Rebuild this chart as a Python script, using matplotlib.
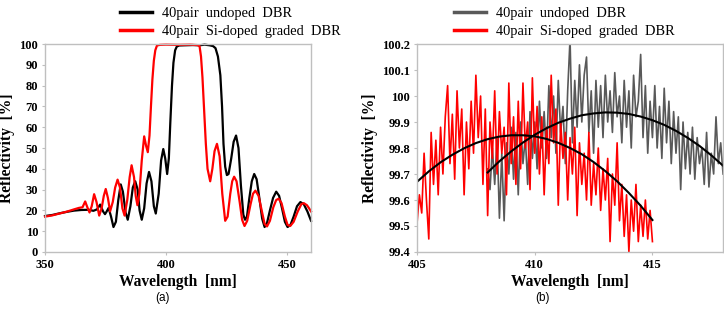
import matplotlib
matplotlib.use("Agg")
import matplotlib.pyplot as plt
import numpy as np
from matplotlib.ticker import FuncFormatter

# ---- panel (a): full spectra ----
lam_undoped = [350, 353, 356, 359, 362, 365, 368, 370, 371.5, 372.8, 374, 374.8, 375.5, 376.3,
               377.3, 378.3, 379.3, 380.3, 381.3, 382.2, 383.3, 384.2, 385.3, 386.3, 387.3, 388.3,
               389.1, 390, 391, 392, 393, 394, 395, 395.8, 397, 398, 398.9, 399.7, 400.5, 401.2,
               401.8, 402.5, 403.1, 403.8, 404.5, 405.5, 408, 411, 414, 416, 418, 419.5, 420.5,
               421.5, 422.5, 423.2, 423.8, 424.5, 425.2, 425.9, 427, 428, 429, 430, 431, 432,
               432.7, 433.5, 434.5, 435.5, 436.5, 437.5, 438.5, 439.8, 440.8, 441.8, 443, 444.3,
               445.6, 446.8, 448, 449.2, 450.3, 451.5, 452.8, 454.2, 455.6, 457, 458.5, 460]
r_undoped = [17.3, 17.8, 18.6, 19.3, 19.9, 20.2, 20.3, 19.8, 20.5, 22.8, 19.5, 18.2, 19.5, 21.2,
             17, 12, 14.5, 25, 32.5, 29, 19, 15.5, 22, 31, 34, 30,
             20, 15.5, 21, 33, 38.5, 34, 22, 18.5, 28, 44, 49.5, 45, 37.5, 45,
             62, 80, 91, 97, 98.8, 99.3, 99.4, 99.5, 99.4, 99.7, 99.4, 99, 98,
             94, 85, 70, 52, 41, 37, 37.5, 45, 53, 56, 50, 32, 18,
             15.5, 17, 26, 34, 37.5, 35, 27, 16, 12, 14, 20, 26,
             29, 27, 21, 14.5, 12, 13, 17, 22, 24, 23, 19.5, 15]

lam_graded = [350, 353, 356, 359, 362, 364, 365.5, 366.6, 367.5, 368.4, 369.3, 370.3, 371.3,
              372.4, 373.4, 374.3, 375.1, 376, 376.9, 378, 379, 380, 381, 382, 382.9, 384, 385,
              385.8, 386.8, 387.5, 388.2, 389, 390, 391, 391.8, 392.5, 393.2, 393.8, 394.4, 395,
              395.6, 396.3, 397.5, 400, 405, 410, 413, 413.9, 414.5, 415.1, 415.8, 416.5, 417.2,
              418.3, 419.2, 420.1, 421.1, 422.2, 423.3, 424.5, 425.5, 426.6, 427.4, 428.2, 429.2,
              430.5, 431.5, 432.5, 433.6, 435, 436, 437, 438.3, 439.6, 440.8, 441.8, 443, 444.4,
              445.6, 446.6, 447.8, 449.2, 450.3, 451.4, 452.8, 454.5, 456, 457, 458.3, 459.2, 460]
r_graded = [17, 17.6, 18.5, 19.4, 20.5, 21.2, 21.5, 24.3, 21.5, 19, 22, 27.8, 24,
            17.5, 21, 27, 30.3, 26, 19.5, 24, 31, 34.8, 31, 21, 17.5, 25, 36,
            41.7, 36, 27, 22.5, 28, 44, 55.6, 51, 48, 56, 70, 83, 92,
            97, 99.3, 99.6, 99.7, 99.6, 99.7, 99.5, 99, 94, 84, 68, 52, 40,
            34, 40, 48.5, 52, 46, 28, 15, 17, 28, 34, 36.2, 34,
            24, 15.5, 12.5, 15, 23, 28, 29.5, 27, 20, 13.5, 12.3, 15, 21.5,
            25, 25.6, 23.5, 17, 13, 12.5, 14.5, 19.5, 23, 23.5, 22.5, 21, 19.5]

# ---- panel (b): stop-band top, 0.1 nm steps ----
lam_red_start, lam_gray_start, lam_step = 405.0, 408.0, 0.1
top_graded = [99.51, 99.62, 99.55, 99.78, 99.60, 99.45, 99.86, 99.66, 99.83, 99.62,
              99.88, 99.70, 99.92, 100.04, 99.74, 99.93, 99.68, 100.02, 99.80, 99.95,
              99.62, 99.90, 99.72, 99.98, 99.78, 100.08, 99.84, 100.00, 99.66, 99.95,
              99.54, 99.90, 99.76, 100.02, 99.70, 99.94, 99.78, 99.88, 99.62, 100.05,
              99.74, 99.92, 99.66, 99.98, 99.72, 100.05, 99.80, 99.90, 99.64, 100.07,
              99.78, 99.96, 99.70, 99.92, 99.62, 99.88, 99.74, 100.08, 99.82, 99.95,
              99.58, 99.90, 99.76, 99.86, 99.60, 99.84, 99.70, 99.88, 99.54, 99.82,
              99.66, 99.78, 99.60, 99.86, 99.58, 99.74, 99.62, 99.80, 99.56, 99.72,
              99.60, 99.76, 99.44, 99.70, 99.58, 99.82, 99.52, 99.66, 99.46, 99.62,
              99.40, 99.60, 99.48, 99.66, 99.44, 99.58, 99.46, 99.60, 99.45, 99.56, 99.44]
top_undoped = [99.72, 99.64, 99.80, 99.66, 99.84, 99.53, 99.78, 99.52, 99.82, 99.70,
               99.88, 99.68, 99.86, 99.62, 99.90, 99.74, 99.84, 99.66, 99.94, 99.76,
               99.90, 99.72, 99.98, 99.80, 99.94, 99.76, 100.04, 99.84, 100.00, 99.78,
               100.06, 99.86, 99.96, 99.74, 100.02, 100.22, 99.82, 100.06, 99.88, 100.12,
               99.90, 100.08, 100.15, 99.86, 100.02, 99.78, 100.06, 99.88, 100.04, 99.84,
               100.08, 99.90, 100.02, 99.86, 100.09, 99.92, 100.00, 99.82, 100.06, 99.88,
               100.02, 99.80, 100.08, 99.92, 99.98, 100.16, 99.84, 100.04, 99.78, 99.98,
               99.84, 100.04, 99.80, 99.96, 99.76, 100.03, 99.82, 99.98, 99.74, 99.94,
               99.78, 99.92, 99.64, 99.90, 99.72, 99.86, 99.70, 99.88, 99.68, 99.84,
               99.74, 99.80, 99.66, 99.86, 99.65, 99.78, 99.70, 99.92, 99.74, 99.82, 99.70]

# parabolic fits
fit_red_lam = [405, 405.5, 406, 406.5, 407, 407.5, 408, 408.5, 409, 409.5, 410, 410.5, 411,
               411.5, 412, 412.5, 413, 413.5, 414, 414.5, 415]
fit_red = [99.670, 99.710, 99.745, 99.774, 99.799, 99.819, 99.834, 99.844, 99.849, 99.849,
           99.845, 99.835, 99.820, 99.800, 99.776, 99.746, 99.711, 99.672, 99.627, 99.578, 99.523]
fit_gray_lam = [408, 408.5, 409, 409.5, 410, 410.5, 411, 411.5, 412, 412.5, 413, 413.5, 414,
                414.5, 415, 415.5, 416, 416.5, 417, 417.5, 418]
fit_gray = [99.706, 99.749, 99.787, 99.821, 99.851, 99.876, 99.897, 99.913, 99.926, 99.933,
            99.937, 99.936, 99.931, 99.921, 99.907, 99.889, 99.866, 99.839, 99.808, 99.772, 99.732]

labels = ["40pair  undoped  DBR", "40pair  Si-doped  graded  DBR"]

SERIF = "Liberation Serif"
SPINE = "#bfbfbf"
RED = "#ff0000"
GRAY = "#595959"

fig = plt.figure(figsize=(7.24, 3.09), dpi=100)
ax1 = fig.add_axes([0.0622, 0.1845, 0.3674, 0.673])
ax2 = fig.add_axes([0.576, 0.1845, 0.4227, 0.673])

ax1.plot(lam_undoped, r_undoped, color="black", lw=1.6, label=labels[0], clip_on=False)
ax1.plot(lam_graded, r_graded, color=RED, lw=1.6, label=labels[1], clip_on=False)
ax1.set_xlim(350, 460)
ax1.set_ylim(0, 100)
ax1.set_xticks([350, 400, 450])
ax1.set_yticks(range(0, 101, 10))

lam_red = lam_red_start + lam_step * np.arange(len(top_graded))
lam_gray = lam_gray_start + lam_step * np.arange(len(top_undoped))
ax2.plot(lam_gray, top_undoped, color=GRAY, lw=1.2, label=labels[0])
ax2.plot(lam_red, top_graded, color=RED, lw=1.2, label=labels[1])
ax2.plot(fit_red_lam, fit_red, color="black", lw=1.5)
ax2.plot(fit_gray_lam, fit_gray, color="black", lw=1.5)
ax2.set_xlim(405, 418)
ax2.set_ylim(99.4, 100.2)
ax2.set_xticks([405, 410, 415])
ax2.set_yticks(np.round(np.arange(99.4, 100.21, 0.1), 1))
ax2.yaxis.set_major_formatter(FuncFormatter(lambda v, p: f"{v:g}"))

for ax, lx in ((ax1, 0.282), (ax2, 0.121)):
    for s in ax.spines.values():
        s.set_color(SPINE)
        s.set_linewidth(1.0)
    ax.tick_params(length=2, color=SPINE, pad=3)
    for t in ax.get_xticklabels() + ax.get_yticklabels():
        t.set_fontfamily(SERIF)
        t.set_fontweight("bold")
        t.set_fontsize(9)
    ax.set_xlabel("Wavelength  [nm]", fontfamily=SERIF, fontweight="bold", fontsize=11.2, labelpad=2)
    ax.set_ylabel("Reflectivity  [%]", fontfamily=SERIF, fontweight="bold", fontsize=11.2, labelpad=3)
    leg = ax.legend(loc="lower left", bbox_to_anchor=(lx, 1.03), frameon=False,
                    borderpad=0, borderaxespad=0, handlelength=2.2, handletextpad=0.7,
                    labelspacing=0.3, prop={"family": SERIF, "size": 10.4})
    for h in leg.get_lines():
        h.set_linewidth(2.5)

fig.text(163 / 724, 1 - 298 / 309, "(a)", fontfamily="Liberation Sans", fontsize=8.5, ha="center", va="center")
fig.text(543 / 724, 1 - 298 / 309, "(b)", fontfamily="Liberation Sans", fontsize=8.5, ha="center", va="center")

fig.savefig("out.png", dpi=100)
